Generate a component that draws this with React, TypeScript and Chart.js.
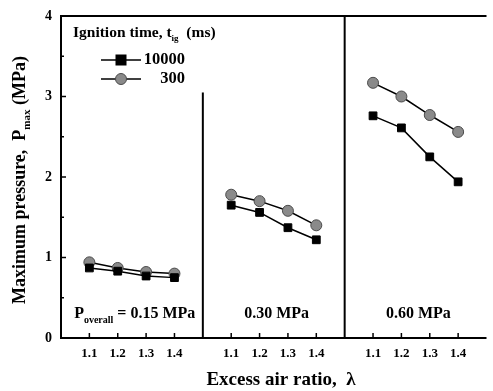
import React, { useEffect, useRef } from "react";
import { Chart, registerables } from "chart.js";

Chart.register(...registerables);

const categories = ["", "1.1", "1.2", "1.3", "1.4", "", "1.1", "1.2", "1.3", "1.4", "", "1.1", "1.2", "1.3", "1.4", ""];
const series10000 = [null, 0.87, 0.83, 0.77, 0.75, null, 1.65, 1.56, 1.37, 1.22, null, 2.76, 2.61, 2.25, 1.94, null];
const series300 = [null, 0.94, 0.87, 0.82, 0.8, null, 1.78, 1.7, 1.58, 1.4, null, 3.17, 3.0, 2.77, 2.56, null];
const yTicks = [0, 1, 2, 3, 4];
const dividerIndex = [5, 10];
const dividerTop = [3.05, 4];
const panelLabelIndex = [2.6, 7.6, 12.6];
const panelLabels = ["= 0.15 MPa", "0.30 MPa", "0.60 MPa"];
const legendLabels = ["10000", "300"];

const FONT = "'Liberation Serif', 'DejaVu Serif', serif";

type Part = { text: string; sub?: boolean };

function drawRich(ctx: CanvasRenderingContext2D, parts: Part[], x: number, y: number, size: number, align: "left" | "center" | "right") {
  const subSize = Math.round(size * 0.6);
  const widths = parts.map((p) => {
    ctx.font = `bold ${p.sub ? subSize : size}px ${FONT}`;
    return ctx.measureText(p.text).width;
  });
  const total = widths.reduce((a, b) => a + b, 0);
  let cx = align === "left" ? x : align === "center" ? x - total / 2 : x - total;
  ctx.textBaseline = "middle";
  ctx.textAlign = "left";
  parts.forEach((p, i) => {
    ctx.font = `bold ${p.sub ? subSize : size}px ${FONT}`;
    ctx.fillText(p.text, cx, p.sub ? y + size * 0.38 : y);
    cx += widths[i];
  });
}

function drawSquare(ctx: CanvasRenderingContext2D, x: number, y: number) {
  ctx.fillStyle = "#000";
  ctx.fillRect(x - 5.5, y - 5.5, 11, 11);
}
function drawCircle(ctx: CanvasRenderingContext2D, x: number, y: number) {
  ctx.beginPath();
  ctx.arc(x, y, 5.5, 0, Math.PI * 2);
  ctx.fillStyle = "#8a8a8a";
  ctx.fill();
  ctx.lineWidth = 1;
  ctx.strokeStyle = "#4a4a4a";
  ctx.stroke();
}

const framePlugin = {
  id: "frame",
  afterDraw(chart: any) {
    const { ctx, chartArea, scales } = chart;
    const xs = scales.x;
    const ys = scales.y;
    const { left, right, top, bottom } = chartArea;
    ctx.save();
    ctx.strokeStyle = "#000";
    ctx.fillStyle = "#000";
    ctx.lineWidth = 2;
    ctx.beginPath();
    ctx.moveTo(left, top);
    ctx.lineTo(right, top);
    ctx.moveTo(left, top - 1);
    ctx.lineTo(left, bottom + 1);
    ctx.moveTo(left - 1, bottom);
    ctx.lineTo(right, bottom);
    ctx.stroke();
    dividerIndex.forEach((idx, i) => {
      const x = xs.getPixelForValue(idx);
      ctx.beginPath();
      ctx.moveTo(x, ys.getPixelForValue(dividerTop[i]));
      ctx.lineTo(x, bottom);
      ctx.stroke();
    });
    ctx.lineWidth = 1.5;
    for (let v = 0; v <= 4; v += 0.5) {
      const y = ys.getPixelForValue(v);
      const len = Number.isInteger(v) ? 5 : 3;
      ctx.beginPath();
      ctx.moveTo(left, y);
      ctx.lineTo(left + len, y);
      ctx.stroke();
    }
    categories.forEach((c, i) => {
      if (!c) return;
      const x = xs.getPixelForValue(i);
      ctx.beginPath();
      ctx.moveTo(x, bottom);
      ctx.lineTo(x, bottom - 5);
      ctx.stroke();
    });
    const ly = 314;
    drawRich(ctx, [{ text: "P" }, { text: "overall", sub: true }, { text: " " + panelLabels[0] }], xs.getPixelForValue(panelLabelIndex[0]), ly, 16, "center");
    drawRich(ctx, [{ text: panelLabels[1] }], xs.getPixelForValue(panelLabelIndex[1]), ly, 16, "center");
    drawRich(ctx, [{ text: panelLabels[2] }], xs.getPixelForValue(panelLabelIndex[2]), ly, 16, "center");
    drawRich(ctx, [{ text: "Ignition time, t" }, { text: "ig", sub: true }, { text: "  (ms)" }], left + 12, 33, 15.5, "left");
    const lx1 = left + 40, lx2 = left + 80, mx = left + 60;
    [60, 79].forEach((y, i) => {
      ctx.lineWidth = 1.5;
      ctx.strokeStyle = "#000";
      ctx.beginPath();
      ctx.moveTo(lx1, y);
      ctx.lineTo(lx2, y);
      ctx.stroke();
      if (i === 0) drawSquare(ctx, mx, y);
      else drawCircle(ctx, mx, y);
      ctx.fillStyle = "#000";
      drawRich(ctx, [{ text: legendLabels[i] }], left + 124, y, 16.5, "right");
    });
    ctx.fillStyle = "#000";
    drawRich(ctx, [{ text: "Excess air ratio,  λ" }], 281, 380, 19, "center");
    ctx.translate(20, 180);
    ctx.rotate(-Math.PI / 2);
    drawRich(ctx, [{ text: "Maximum pressure,  P" }, { text: "max", sub: true }, { text: " (MPa)" }], 0, 0, 18, "center");
    ctx.restore();
  },
};

export default function App() {
  const ref = useRef<HTMLCanvasElement>(null);
  useEffect(() => {
    document.body.style.margin = "0";
    const chart = new Chart(ref.current!, {
      type: "line",
      data: {
        labels: categories,
        datasets: [
          {
            label: legendLabels[0],
            data: series10000,
            borderColor: "#000",
            borderWidth: 1.5,
            pointStyle: "rect",
            pointRadius: 5.5,
            pointBackgroundColor: "#000",
            pointBorderColor: "#000",
            pointBorderWidth: 1,
            spanGaps: false,
          },
          {
            label: legendLabels[1],
            data: series300,
            borderColor: "#000",
            borderWidth: 1.5,
            pointStyle: "circle",
            pointRadius: 5.5,
            pointBackgroundColor: "#8a8a8a",
            pointBorderColor: "#4a4a4a",
            pointBorderWidth: 1,
            spanGaps: false,
          },
        ],
      },
      options: {
        responsive: false,
        animation: false,
        layout: { padding: { top: 16, right: 0, left: 0, bottom: 0 } },
        plugins: { legend: { display: false }, tooltip: { enabled: false } },
        scales: {
          x: {
            type: "category",
            offset: false,
            grid: { display: false },
            border: { display: false },
            ticks: {
              autoSkip: false,
              maxRotation: 0,
              padding: 0,
              color: "#000",
              font: { family: FONT, size: 13, weight: "bold" },
            },
            afterFit: (s: any) => {
              s.height = 53;
            },
          },
          y: {
            min: 0,
            max: 4,
            grid: { display: false },
            border: { display: false },
            ticks: {
              stepSize: 1,
              padding: 1,
              color: "#000",
              font: { family: FONT, size: 14, weight: "bold" },
              callback: (v: any) => (yTicks.includes(Number(v)) ? String(v) : ""),
            },
            afterFit: (s: any) => {
              s.width = 61;
            },
          },
        },
      },
      plugins: [framePlugin],
    });
    return () => chart.destroy();
  }, []);
  return (
    <div style={{ width: 493, height: 391 }}>
      <canvas ref={ref} width={493} height={391} />
    </div>
  );
}
